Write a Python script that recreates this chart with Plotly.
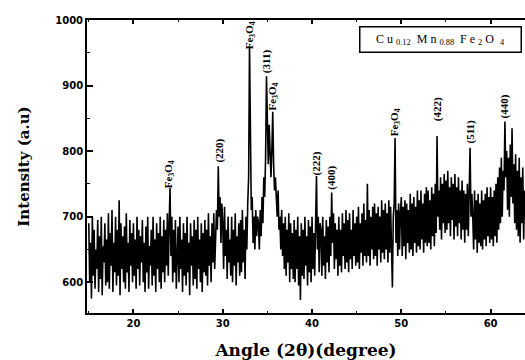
import plotly.graph_objects as go

# 2-theta start and step of the scan (degrees)
theta_start = 15.0
theta_step = 0.1

# intensity readings, one row per degree (15 ... 63)
intensity = [
    690, 600, 660, 575, 700, 610, 680, 590, 650, 620,
    695, 585, 670, 605, 700, 580, 655, 630, 690, 595,
    665, 600, 705, 590, 675, 625, 710, 585, 660, 615,
    700, 595, 680, 610, 725, 580, 690, 620, 670, 600,
    685, 590, 705, 615, 660, 585, 695, 625, 675, 600,
    690, 610, 665, 590, 700, 620, 680, 595, 670, 630,
    695, 600, 660, 585, 685, 615, 700, 590, 655, 625,
    680, 595, 700, 610, 665, 585, 690, 620, 675, 600,
    700, 590, 670, 615, 695, 600, 680, 625, 705, 610,
    690, 744, 640, 700, 600, 680, 615, 695, 590, 660,
    685, 600, 700, 620, 665, 585, 690, 610, 675, 595,
    700, 615, 660, 580, 690, 625, 670, 595, 695, 605,
    680, 590, 700, 620, 665, 600, 690, 585, 675, 615,
    695, 610, 680, 595, 705, 625, 670, 600, 690, 630,
    705, 620, 690, 710, 680, 777, 700, 730, 660, 720,
    690, 620, 715, 640, 680, 605, 700, 630, 665, 610,
    700, 600, 680, 625, 705, 595, 670, 630, 690, 610,
    695, 615, 710, 630, 680, 605, 700, 650, 720, 760,
    960, 760, 710, 730, 660, 700, 650, 710, 670, 700,
    690, 650, 710, 670, 730, 690, 760, 730, 790, 914,
    820, 780, 840, 800, 760, 800, 860, 780, 740, 760,
    720, 700, 740, 680, 700, 650, 710, 640, 690, 620,
    700, 610, 680, 630, 705, 600, 690, 620, 675, 605,
    695, 600, 680, 620, 700, 595, 670, 573, 690, 610,
    680, 605, 700, 625, 670, 595, 695, 615, 685, 600,
    700, 620, 675, 610, 690, 762, 650, 700, 615, 690,
    680, 610, 700, 625, 670, 605, 695, 630, 685, 615,
    700, 640, 737, 660, 705, 620, 690, 635, 680, 610,
    700, 625, 680, 615, 705, 640, 690, 620, 710, 630,
    695, 615, 705, 635, 680, 620, 710, 640, 690, 625,
    700, 630, 715, 620, 690, 645, 705, 625, 720, 640,
    695, 630, 750, 640, 710, 625, 700, 650, 715, 635,
    720, 640, 705, 625, 715, 650, 700, 630, 725, 645,
    710, 635, 720, 650, 705, 630, 725, 645, 715, 640,
    592, 700, 720, 820, 660, 710, 640, 720, 650, 705,
    730, 640, 715, 655, 725, 635, 720, 660, 710, 645,
    735, 650, 720, 640, 730, 660, 715, 645, 740, 655,
    725, 650, 740, 665, 720, 645, 735, 660, 745, 655,
    740, 660, 725, 650, 745, 670, 735, 655, 750, 675,
    823, 700, 740, 680, 760, 665, 750, 690, 765, 675,
    755, 680, 770, 690, 745, 670, 760, 695, 750, 665,
    765, 685, 745, 670, 760, 690, 740, 665, 755, 680,
    740, 660, 735, 680, 750, 670, 760, 805, 700, 735,
    700, 650, 740, 665, 725, 645, 735, 660, 720, 655,
    740, 650, 725, 665, 735, 655, 745, 670, 730, 660,
    745, 665, 730, 655, 740, 670, 750, 660, 760, 680,
    775, 690, 790, 700, 770, 740, 845, 760, 800, 710,
    790, 700, 810, 730, 835, 720, 780, 690, 795, 680,
    770, 670, 790, 660, 760, 690, 775, 665, 740, 700,
]
two_theta = [round(theta_start + i * theta_step, 2) for i in range(len(intensity))]

# peak labels: position (2theta), label centre height (intensity), text
peak_pos = [24.0, 29.6, 33.0, 34.9, 35.6, 40.5, 42.2, 49.3, 54.0, 57.7, 61.6]
peak_label_y = [765, 801, 976, 938, 883, 782, 759, 844, 864, 830, 868]
peak_text = ["Fe<sub>3</sub>O<sub>4</sub>", "(220)", "Fe<sub>3</sub>O<sub>4</sub>", "(311)",
             "Fe<sub>3</sub>O<sub>4</sub>", "(222)", "(400)", "Fe<sub>3</sub>O<sub>4</sub>",
             "(422)", "(511)", "(440)"]

x_ticks = [20, 30, 40, 50, 60]
y_ticks = [600, 700, 800, 900, 1000]

fig = go.Figure()
fig.add_trace(go.Scatter(x=two_theta, y=intensity, mode="lines",
                         line=dict(color="black", width=1.6), showlegend=False))

serif = "Liberation Serif"
for px, py, t in zip(peak_pos, peak_label_y, peak_text):
    fig.add_annotation(x=px, y=py, text="<b>" + t + "</b>", textangle=-90, showarrow=False,
                       xanchor="center", yanchor="middle",
                       font=dict(family=serif, size=11, color="black"))

sp = "&nbsp;"
legend_text = ("C" + sp + "u" + sp + "<sub>0.12</sub>" + sp * 2 + "M" + sp + "n" + sp + "<sub>0.88</sub>"
               + sp * 2 + "F" + sp + "e" + sp + "<sub>2</sub>" + sp + "O" + sp * 2 + "<sub>4</sub>")
fig.add_annotation(xref="paper", yref="paper", x=0.994, y=0.932, xanchor="right", yanchor="middle",
                   width=158, height=22, align="center", text=legend_text,
                   showarrow=False, bordercolor="black", borderwidth=1.5, borderpad=1,
                   bgcolor="white", font=dict(family=serif, size=12, color="black"))

tick_font = dict(size=10, family="DejaVu Sans", color="black")

fig.update_layout(
    width=525, height=360,
    margin=dict(l=87, r=0, t=20, b=47, autoexpand=False),
    paper_bgcolor="white", plot_bgcolor="white",
    font=dict(family=serif, color="black"),
    xaxis=dict(range=[14.8, 63.85], tickvals=x_ticks, ticktext=["<b>%d</b>" % v for v in x_ticks],
               ticks="inside", ticklen=4, tickwidth=1.5, tickcolor="black", showline=True, linewidth=1.8,
               linecolor="black", mirror="ticks", showgrid=False, zeroline=False, automargin=False,
               tickfont=tick_font,
               minor=dict(dtick=5, tick0=15, ticks="inside", ticklen=2, tickwidth=1, tickcolor="black"),
               title=dict(text="<b>Angle (2θ)(degree)</b>", font=dict(size=17, family="DejaVu Serif", color="black"),
                          standoff=17)),
    yaxis=dict(range=[553, 1000], tickvals=y_ticks, ticktext=["<b>%d</b>" % v for v in y_ticks],
               ticks="inside", ticklen=6, tickwidth=1.5, tickcolor="black", showline=True, linewidth=1.8,
               linecolor="black", showgrid=False, zeroline=False, automargin=False,
               tickfont=tick_font,
               minor=dict(dtick=50, tick0=550, ticks="inside", ticklen=3, tickwidth=1, tickcolor="black"),
               title=dict(text="<b>Intensity (a.u)</b>", font=dict(size=15, family="DejaVu Serif", color="black"),
                          standoff=22)),
)

fig.write_html("out.html", config={"displayModeBar": False},
               post_script="document.body.style.margin='0';document.body.style.overflow='hidden';")
